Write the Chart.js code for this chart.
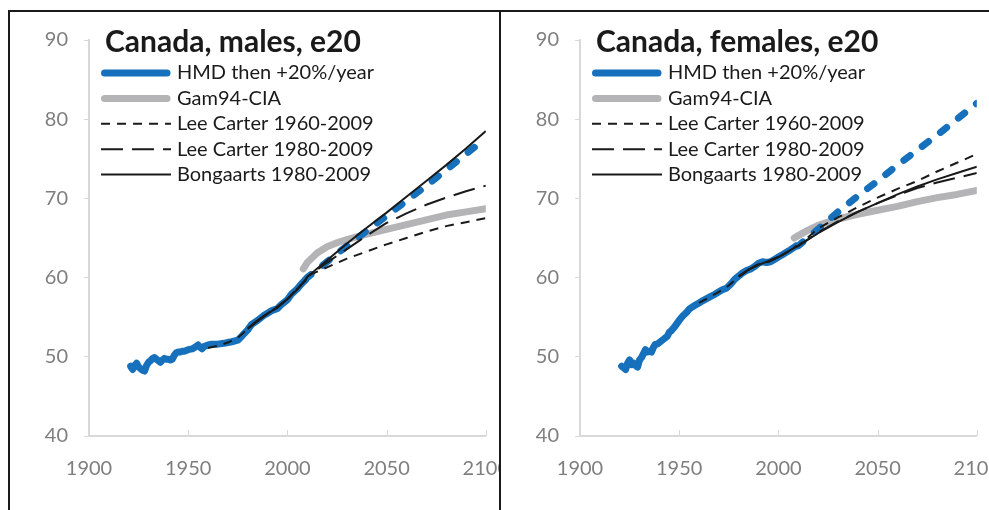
<!DOCTYPE html>
<html>
<head>
<meta charset="utf-8">
<script src="https://cdn.jsdelivr.net/npm/chart.js@4.4.1/dist/chart.umd.min.js"></script>
<style>
  html, body { margin: 0; padding: 0; background: #fff; overflow: hidden; }
  .panel { position: absolute; top: 10px; height: 520px; border-top: 2px solid #1a1a1a; border-left: 2px solid #1a1a1a; overflow: hidden; }
  #panelL { left: 8px; width: 489px; }
  #panelR { left: 499px; width: 500px; }
  canvas { position: absolute; left: 0; top: 0; }
</style>
</head>
<body>
<div class="panel" id="panelL"><canvas id="chartMales" width="520" height="498"></canvas></div>
<div class="panel" id="panelR"><canvas id="chartFemales" width="520" height="498"></canvas></div>
<script>
// observed e20 (HMD)
const maleHistYears = [1921,1922,1923,1924,1925,1926,1927,1928,1929,1930,1931,1932,1933,1934,1935,1936,1937,1938,1939,1940,1941,1942,1943,1944,1945,1946,1947,1948,1949,1950,1952,1954,1955,1956,1957,1958,1960,1962,1965,1968,1970,1972,1975,1977,1980,1982,1985,1988,1990,1992,1995,1997,2000,2002,2005,2007,2009];
const maleHistE20 = [48.8,48.4,48.9,49.2,48.7,48.5,48.3,48.2,48.9,49.3,49.5,49.8,49.9,49.7,49.5,49.3,49.6,49.8,49.7,49.7,49.6,49.7,50.2,50.5,50.6,50.6,50.7,50.7,50.8,50.9,51.0,51.3,51.5,51.2,51.0,51.3,51.5,51.6,51.6,51.7,51.8,51.9,52.1,52.6,53.4,54.1,54.6,55.2,55.5,55.8,56.1,56.6,57.2,57.9,58.6,59.2,59.7];
const femaleHistYears = [1921,1922,1923,1924,1925,1926,1927,1928,1929,1930,1931,1932,1933,1934,1935,1936,1937,1938,1939,1940,1942,1944,1945,1946,1948,1950,1952,1954,1955,1956,1958,1960,1962,1965,1968,1970,1972,1974,1976,1978,1980,1982,1984,1986,1988,1990,1992,1994,1996,1998,2000,2002,2004,2006,2009];
const femaleHistE20 = [48.8,48.6,48.4,49.2,49.6,49.0,49.2,48.9,48.7,49.6,49.9,50.4,50.9,50.6,50.7,50.6,51.2,51.6,51.6,51.8,52.2,52.6,53.1,53.3,53.9,54.6,55.2,55.7,56.0,56.2,56.5,56.8,57.1,57.5,57.9,58.2,58.5,58.7,59.2,59.8,60.2,60.6,60.9,61.1,61.4,61.8,62.0,61.9,62.0,62.3,62.6,62.9,63.2,63.5,64.0];

// fitted part of the models
const fit60Years = [1960,1965,1970,1975,1980,1985,1990,1995,2000,2005,2009];
const fit80Years = [1980,1985,1990,1995,2000,2005,2009];
const maleLc60Fit = [51.1,51.4,51.8,52.4,53.5,54.6,55.5,56.3,57.3,58.6,59.6];
const maleLc80Fit = [53.6,54.6,55.5,56.2,57.3,58.6,59.6];
const maleBongFit = [53.5,54.5,55.4,56.3,57.3,58.5,59.7];
const femaleLc60Fit = [56.8,57.5,58.2,59.0,60.1,61.0,61.7,62.0,62.6,63.3,63.9];
const femaleLc80Fit = [60.2,61.0,61.7,62.0,62.6,63.3,64.0];
const femaleBongFit = [60.1,61.0,61.6,62.1,62.6,63.3,63.9];

// projections
const projYears = [2010,2020,2030,2040,2050,2060,2070,2080,2090,2100];
const maleHmdProj = [60.0,62.0,64.0,65.9,67.8,69.7,71.6,73.6,75.6,77.6];
const maleLc60Proj = [60.2,61.3,62.4,63.3,64.2,65.0,65.8,66.5,67.0,67.5];
const maleLc80Proj = [60.1,61.9,63.6,65.3,66.9,68.1,69.2,70.1,70.9,71.6];
const maleBongProj = [60.1,62.2,64.3,66.3,68.2,70.2,72.2,74.2,76.3,78.5];
const femaleHmdProj = [64.0,66.1,68.3,70.3,72.2,74.2,76.1,78.0,80.0,82.0];
const femaleLc60Proj = [64.0,66.2,67.6,68.9,70.1,71.2,72.2,73.4,74.5,75.6];
const femaleLc80Proj = [64.0,65.7,67.1,68.3,69.4,70.4,71.3,72.0,72.6,73.2];
const femaleBongProj = [64.0,65.6,67.0,68.3,69.4,70.5,71.5,72.4,73.2,74.0];

const gamYears = [2008,2010,2015,2020,2025,2030,2040,2050,2060,2070,2080,2090,2100];
const maleGam = [61.1,61.9,63.1,63.9,64.4,64.8,65.5,66.1,66.7,67.3,67.9,68.3,68.7];
const femaleGam = [65.0,65.3,66.0,66.6,67.0,67.4,68.0,68.5,69.0,69.6,70.1,70.5,71.0];

const xTicks = [1900, 1950, 2000, 2050, 2100];
const yTicks = [40, 50, 60, 70, 80, 90];

const BLUE = '#1670bb';
const GREY = '#b4b4b6';
const BLACK = '#1a1a1a';

function pts(xs, ys) {
    return xs.map(function(x, i) { return { x: x, y: ys[i] }; });
}

// title, legend and inward x tick marks, drawn under the lines
const panelText = {
    id: 'panelText',
    beforeDatasetsDraw: function(chart, args, opts) {
        const ctx = chart.ctx;
        const xs = chart.scales.x;
        const area = chart.chartArea;
        ctx.save();
        ctx.strokeStyle = '#d9d9d9';
        ctx.lineWidth = 1;
        xs.ticks.forEach(function(t) {
            const px = Math.round(xs.getPixelForValue(t.value)) + 0.5;
            ctx.beginPath();
            ctx.moveTo(px, area.bottom);
            ctx.lineTo(px, area.bottom - 6);
            ctx.stroke();
        });

        ctx.fillStyle = BLACK;
        ctx.textBaseline = 'middle';
        ctx.textAlign = 'left';
        ctx.font = 'bold 30px Lato';
        ctx.fillText(opts.text, 95, 30);

        ctx.font = '20px Lato';
        chart.data.datasets.forEach(function(ds, i) {
            const y = 61 + i * 25.4;
            ctx.save();
            ctx.strokeStyle = ds.borderColor;
            ctx.lineWidth = ds.borderWidth;
            ctx.lineCap = ds.borderCapStyle || 'butt';
            ctx.setLineDash(ds.borderDash || []);
            ctx.beginPath();
            if (ctx.lineCap === 'round') {
                ctx.moveTo(94.5, y);
                ctx.lineTo(157, y);
            } else {
                ctx.moveTo(91, y);
                ctx.lineTo(161, y);
            }
            ctx.stroke();
            ctx.restore();
            ctx.fillText(ds.label, 167, y);
        });
        ctx.restore();
    }
};

function makeChart(id, title, s) {
    const ctx = document.getElementById(id).getContext('2d');
    return new Chart(ctx, {
        type: 'line',
        data: {
            datasets: [{
                label: 'HMD then +20%/year',
                data: pts(s.histYears, s.hist).concat(pts(projYears, s.hmdProj)),
                borderColor: BLUE,
                borderWidth: 7,
                borderCapStyle: 'round',
                borderJoinStyle: 'round',
                segment: {
                    borderDash: function(c) { return c.p0.parsed.x >= 2009 ? [8, 15] : undefined; }
                },
                order: 4
            }, {
                label: 'Gam94-CIA',
                data: pts(gamYears, s.gam),
                borderColor: GREY,
                borderWidth: 7,
                borderCapStyle: 'round',
                borderJoinStyle: 'round',
                order: 5
            }, {
                label: 'Lee Carter 1960-2009',
                data: pts(fit60Years, s.lc60Fit).concat(pts(projYears, s.lc60Proj)),
                borderColor: BLACK,
                borderWidth: 2,
                borderDash: [9, 7],
                order: 3
            }, {
                label: 'Lee Carter 1980-2009',
                data: pts(fit80Years, s.lc80Fit).concat(pts(projYears, s.lc80Proj)),
                borderColor: BLACK,
                borderWidth: 2,
                borderDash: [22, 9],
                order: 2
            }, {
                label: 'Bongaarts 1980-2009',
                data: pts(fit80Years, s.bongFit).concat(pts(projYears, s.bongProj)),
                borderColor: BLACK,
                borderWidth: 2,
                order: 1
            }]
        },
        options: {
            responsive: false,
            animation: false,
            layout: { padding: { top: 15, right: 41, bottom: 14, left: 0 } },
            elements: { point: { radius: 0 }, line: { tension: 0 } },
            plugins: {
                legend: { display: false },
                tooltip: { enabled: false },
                panelText: { text: title }
            },
            scales: {
                x: {
                    type: 'linear',
                    min: xTicks[0],
                    max: xTicks[xTicks.length - 1],
                    afterBuildTicks: function(scale) { scale.ticks = xTicks.map(function(v) { return { value: v }; }); },
                    ticks: {
                        padding: 21,
                        color: '#7f7f7f',
                        font: { family: 'Lato', size: 20 },
                        maxRotation: 0,
                        autoSkip: false,
                        callback: function(v) { return String(v); }
                    },
                    grid: { drawOnChartArea: false, drawTicks: false, color: '#d9d9d9' },
                    border: { color: '#d9d9d9', width: 2 },
                    afterFit: function(scale) { scale.height = 60; }
                },
                y: {
                    min: yTicks[0],
                    max: yTicks[yTicks.length - 1],
                    afterBuildTicks: function(scale) { scale.ticks = yTicks.map(function(v) { return { value: v }; }); },
                    ticks: {
                        padding: 16,
                        color: '#7f7f7f',
                        font: { family: 'Lato', size: 20 }
                    },
                    grid: { drawOnChartArea: false, tickLength: 5, color: '#d9d9d9' },
                    border: { color: '#d9d9d9', width: 2 },
                    afterFit: function(scale) { scale.width = 79; }
                }
            }
        },
        plugins: [panelText]
    });
}

Promise.all([document.fonts.load('20px Lato'), document.fonts.load('bold 30px Lato')]).catch(function() {}).then(function() {
    makeChart('chartMales', 'Canada, males, e20', {
        histYears: maleHistYears, hist: maleHistE20, hmdProj: maleHmdProj,
        gam: maleGam,
        lc60Fit: maleLc60Fit, lc60Proj: maleLc60Proj,
        lc80Fit: maleLc80Fit, lc80Proj: maleLc80Proj,
        bongFit: maleBongFit, bongProj: maleBongProj
    });
    makeChart('chartFemales', 'Canada, females, e20', {
        histYears: femaleHistYears, hist: femaleHistE20, hmdProj: femaleHmdProj,
        gam: femaleGam,
        lc60Fit: femaleLc60Fit, lc60Proj: femaleLc60Proj,
        lc80Fit: femaleLc80Fit, lc80Proj: femaleLc80Proj,
        bongFit: femaleBongFit, bongProj: femaleBongProj
    });
});
</script>
</body>
</html>
